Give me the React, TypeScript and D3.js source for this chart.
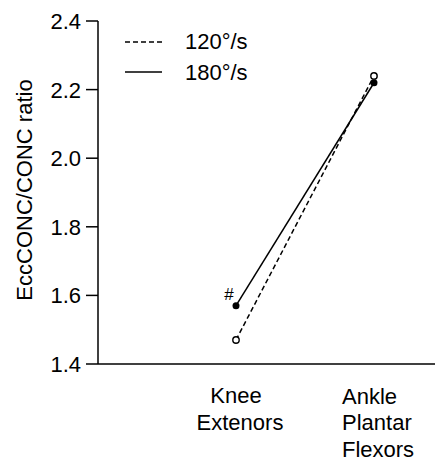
import * as d3 from "d3"

const categories = ["Knee Extenors", "Ankle Plantar Flexors"]
const series120 = [1.47, 2.24]
const series180 = [1.57, 2.22]
const yTicks = [1.4, 1.6, 1.8, 2.0, 2.2, 2.4]

const W = 435
const H = 462
const FONT = "Arial, 'Liberation Sans', sans-serif"

export default function App() {
  const y = d3.scaleLinear().domain([1.4, 2.4]).range([364, 21])
  const x = d3.scalePoint<string>().domain(categories).range([236, 374])
  const line = d3
    .line<number>()
    .x((_, i) => x(categories[i]) as number)
    .y((d) => y(d))

  return (
    <svg width={W} height={H} style={{ position: "absolute", left: 0, top: 0, fontFamily: FONT }}>
      {/* y axis */}
      <line x1={98} x2={98} y1={y(2.4)} y2={y(1.4)} stroke="#000" strokeWidth={1.5} />
      {yTicks.map((t) => (
        <g key={t}>
          <line x1={86} x2={98} y1={y(t)} y2={y(t)} stroke="#000" strokeWidth={1.5} />
          <text x={81} y={y(t)} dy="0.36em" textAnchor="end" fontSize={22}>
            {t.toFixed(1)}
          </text>
        </g>
      ))}
      {/* x axis */}
      <line x1={98} x2={W} y1={y(1.4)} y2={y(1.4)} stroke="#000" strokeWidth={1.5} />
      <text textAnchor="middle" fontSize={22}>
        <tspan x={236} y={403}>Knee</tspan>
        <tspan x={240} y={430}>Extenors</tspan>
      </text>
      <text fontSize={22}>
        <tspan x={342} y={404}>Ankle</tspan>
        <tspan x={342} y={430}>Plantar</tspan>
        <tspan x={342} y={457}>Flexors</tspan>
      </text>
      <text transform="translate(32, 190) rotate(-90)" textAnchor="middle" fontSize={22}>
        EccCONC/CONC ratio
      </text>

      {/* series */}
      <path d={line(series120) as string} fill="none" stroke="#000" strokeWidth={1.5} strokeDasharray="5,3" />
      <path d={line(series180) as string} fill="none" stroke="#000" strokeWidth={1.5} />
      {series180.map((v, i) => (
        <circle key={"f" + i} cx={x(categories[i])} cy={y(v)} r={3.5} fill="#000" />
      ))}
      {series120.map((v, i) => (
        <circle key={"o" + i} cx={x(categories[i])} cy={y(v)} r={3.2} fill="#fff" stroke="#000" strokeWidth={1.4} />
      ))}
      <text x={229} y={y(series180[0]) - 12} dy="0.35em" textAnchor="middle" fontSize={17}>
        #
      </text>

      {/* legend */}
      <line x1={125} x2={162} y1={42} y2={42} stroke="#000" strokeWidth={1.5} strokeDasharray="5,3" />
      <text x={185} y={49} fontSize={22}>120°/s</text>
      <line x1={125} x2={162} y1={72} y2={72} stroke="#000" strokeWidth={1.5} />
      <text x={185} y={80} fontSize={22}>180°/s</text>
    </svg>
  )
}
